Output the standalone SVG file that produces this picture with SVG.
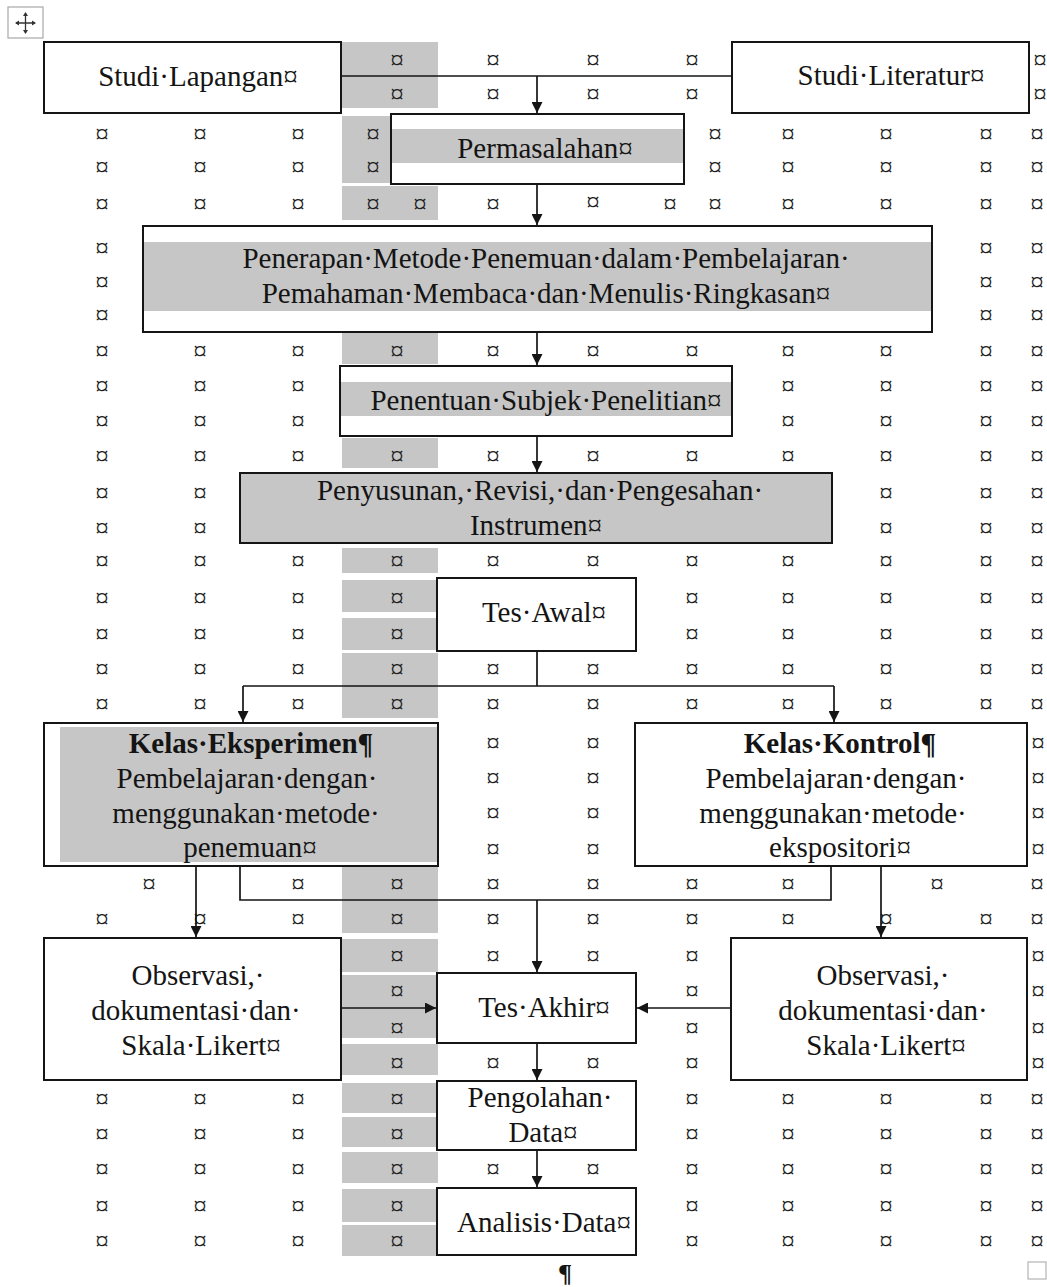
<svg xmlns="http://www.w3.org/2000/svg" width="1047" height="1287" viewBox="0 0 1047 1287">
<style>
.t{font-family:"Liberation Serif","Times New Roman",serif;font-size:29px;fill:#141414;text-anchor:middle}
.b{font-weight:bold}
.m{font-family:"Liberation Serif","Times New Roman",serif;font-size:27px;fill:#1e1e1e;text-anchor:middle}
.box{fill:none;stroke:#151515;stroke-width:2}
.g{fill:#c6c6c6}
.c{fill:none;stroke:#151515;stroke-width:1.7}
.a{fill:none;stroke:#151515;stroke-width:1.7;marker-end:url(#ah)}
</style>
<defs>
<marker id="ah" viewBox="0 0 10 10" refX="10" refY="5" markerWidth="13" markerHeight="11" orient="auto" markerUnits="userSpaceOnUse">
<path d="M0,0 L10,5 L0,10 z" fill="#151515"/>
</marker>
</defs>
<rect width="1047" height="1287" fill="#ffffff"/>

<g id="shading">
<rect class="g" x="342" y="42" width="96" height="66"/>
<rect class="g" x="342" y="116" width="48" height="67"/>
<rect class="g" x="342" y="186" width="96" height="34"/>
<rect class="g" x="342" y="333" width="96" height="31"/>
<rect class="g" x="342" y="438" width="96" height="30"/>
<rect class="g" x="342" y="548" width="96" height="25"/>
<rect class="g" x="342" y="580" width="96" height="32"/>
<rect class="g" x="342" y="618" width="96" height="32"/>
<rect class="g" x="342" y="653" width="96" height="65"/>
<rect class="g" x="342" y="867" width="96" height="66"/>
<rect class="g" x="342" y="939" width="96" height="33"/>
<rect class="g" x="342" y="975" width="96" height="63"/>
<rect class="g" x="342" y="1044" width="96" height="31"/>
<rect class="g" x="342" y="1083" width="96" height="30"/>
<rect class="g" x="342" y="1117" width="96" height="30"/>
<rect class="g" x="342" y="1152" width="96" height="31"/>
<rect class="g" x="342" y="1189" width="96" height="33"/>
<rect class="g" x="342" y="1225" width="96" height="31"/>
</g>

<g id="cell-markers">
<text class="m" x="397" y="69">¤</text><text class="m" x="493" y="69">¤</text><text class="m" x="593" y="69">¤</text><text class="m" x="692" y="69">¤</text><text class="m" x="1040" y="69">¤</text>
<text class="m" x="397" y="103">¤</text><text class="m" x="493" y="103">¤</text><text class="m" x="593" y="103">¤</text><text class="m" x="692" y="103">¤</text><text class="m" x="1040" y="103">¤</text>
<text class="m" x="102" y="143">¤</text><text class="m" x="200" y="143">¤</text><text class="m" x="298" y="143">¤</text><text class="m" x="373" y="143">¤</text><text class="m" x="715" y="143">¤</text><text class="m" x="788" y="143">¤</text><text class="m" x="886" y="143">¤</text><text class="m" x="986" y="143">¤</text><text class="m" x="1037" y="143">¤</text>
<text class="m" x="102" y="176">¤</text><text class="m" x="200" y="176">¤</text><text class="m" x="298" y="176">¤</text><text class="m" x="373" y="176">¤</text><text class="m" x="715" y="176">¤</text><text class="m" x="788" y="176">¤</text><text class="m" x="886" y="176">¤</text><text class="m" x="986" y="176">¤</text><text class="m" x="1037" y="176">¤</text>
<text class="m" x="102" y="213">¤</text><text class="m" x="200" y="213">¤</text><text class="m" x="298" y="213">¤</text><text class="m" x="373" y="213">¤</text><text class="m" x="420" y="213">¤</text><text class="m" x="493" y="213">¤</text><text class="m" x="593" y="211">¤</text><text class="m" x="670" y="213">¤</text><text class="m" x="715" y="213">¤</text><text class="m" x="788" y="213">¤</text><text class="m" x="886" y="213">¤</text><text class="m" x="986" y="213">¤</text><text class="m" x="1037" y="213">¤</text>
<text class="m" x="102" y="257">¤</text><text class="m" x="986" y="257">¤</text><text class="m" x="1037" y="257">¤</text>
<text class="m" x="102" y="291">¤</text><text class="m" x="986" y="291">¤</text><text class="m" x="1037" y="291">¤</text>
<text class="m" x="102" y="324">¤</text><text class="m" x="986" y="324">¤</text><text class="m" x="1037" y="324">¤</text>
<text class="m" x="102" y="360">¤</text><text class="m" x="200" y="360">¤</text><text class="m" x="298" y="360">¤</text><text class="m" x="397" y="360">¤</text><text class="m" x="493" y="360">¤</text><text class="m" x="593" y="360">¤</text><text class="m" x="692" y="360">¤</text><text class="m" x="788" y="360">¤</text><text class="m" x="886" y="360">¤</text><text class="m" x="986" y="360">¤</text><text class="m" x="1037" y="360">¤</text>
<text class="m" x="102" y="395">¤</text><text class="m" x="200" y="395">¤</text><text class="m" x="298" y="395">¤</text><text class="m" x="788" y="395">¤</text><text class="m" x="886" y="395">¤</text><text class="m" x="986" y="395">¤</text><text class="m" x="1037" y="395">¤</text>
<text class="m" x="102" y="430">¤</text><text class="m" x="200" y="430">¤</text><text class="m" x="298" y="430">¤</text><text class="m" x="788" y="430">¤</text><text class="m" x="886" y="430">¤</text><text class="m" x="986" y="430">¤</text><text class="m" x="1037" y="430">¤</text>
<text class="m" x="102" y="465">¤</text><text class="m" x="200" y="465">¤</text><text class="m" x="298" y="465">¤</text><text class="m" x="397" y="465">¤</text><text class="m" x="493" y="465">¤</text><text class="m" x="593" y="465">¤</text><text class="m" x="692" y="465">¤</text><text class="m" x="788" y="465">¤</text><text class="m" x="886" y="465">¤</text><text class="m" x="986" y="465">¤</text><text class="m" x="1037" y="465">¤</text>
<text class="m" x="102" y="502">¤</text><text class="m" x="200" y="502">¤</text><text class="m" x="886" y="502">¤</text><text class="m" x="986" y="502">¤</text><text class="m" x="1037" y="502">¤</text>
<text class="m" x="102" y="537">¤</text><text class="m" x="200" y="537">¤</text><text class="m" x="886" y="537">¤</text><text class="m" x="986" y="537">¤</text><text class="m" x="1037" y="537">¤</text>
<text class="m" x="102" y="570">¤</text><text class="m" x="200" y="570">¤</text><text class="m" x="298" y="570">¤</text><text class="m" x="397" y="570">¤</text><text class="m" x="493" y="570">¤</text><text class="m" x="593" y="570">¤</text><text class="m" x="692" y="570">¤</text><text class="m" x="788" y="570">¤</text><text class="m" x="886" y="570">¤</text><text class="m" x="986" y="570">¤</text><text class="m" x="1037" y="570">¤</text>
<text class="m" x="102" y="607">¤</text><text class="m" x="200" y="607">¤</text><text class="m" x="298" y="607">¤</text><text class="m" x="397" y="607">¤</text><text class="m" x="692" y="607">¤</text><text class="m" x="788" y="607">¤</text><text class="m" x="886" y="607">¤</text><text class="m" x="986" y="607">¤</text><text class="m" x="1037" y="607">¤</text>
<text class="m" x="102" y="643">¤</text><text class="m" x="200" y="643">¤</text><text class="m" x="298" y="643">¤</text><text class="m" x="397" y="643">¤</text><text class="m" x="692" y="643">¤</text><text class="m" x="788" y="643">¤</text><text class="m" x="886" y="643">¤</text><text class="m" x="986" y="643">¤</text><text class="m" x="1037" y="643">¤</text>
<text class="m" x="102" y="678">¤</text><text class="m" x="200" y="678">¤</text><text class="m" x="298" y="678">¤</text><text class="m" x="397" y="678">¤</text><text class="m" x="493" y="678">¤</text><text class="m" x="593" y="678">¤</text><text class="m" x="692" y="678">¤</text><text class="m" x="788" y="678">¤</text><text class="m" x="886" y="678">¤</text><text class="m" x="986" y="678">¤</text><text class="m" x="1037" y="678">¤</text>
<text class="m" x="102" y="713">¤</text><text class="m" x="200" y="713">¤</text><text class="m" x="298" y="713">¤</text><text class="m" x="397" y="713">¤</text><text class="m" x="493" y="713">¤</text><text class="m" x="593" y="713">¤</text><text class="m" x="692" y="713">¤</text><text class="m" x="788" y="713">¤</text><text class="m" x="886" y="713">¤</text><text class="m" x="986" y="713">¤</text><text class="m" x="1037" y="713">¤</text>
<text class="m" x="493" y="752">¤</text><text class="m" x="593" y="752">¤</text><text class="m" x="1038" y="752">¤</text>
<text class="m" x="493" y="787">¤</text><text class="m" x="593" y="787">¤</text><text class="m" x="1038" y="787">¤</text>
<text class="m" x="493" y="822">¤</text><text class="m" x="593" y="822">¤</text><text class="m" x="1038" y="822">¤</text>
<text class="m" x="493" y="858">¤</text><text class="m" x="593" y="858">¤</text><text class="m" x="1038" y="858">¤</text>
<text class="m" x="149" y="893">¤</text><text class="m" x="298" y="893">¤</text><text class="m" x="397" y="893">¤</text><text class="m" x="493" y="893">¤</text><text class="m" x="593" y="893">¤</text><text class="m" x="692" y="893">¤</text><text class="m" x="788" y="893">¤</text><text class="m" x="937" y="893">¤</text><text class="m" x="1037" y="893">¤</text>
<text class="m" x="102" y="928">¤</text><text class="m" x="200" y="928">¤</text><text class="m" x="298" y="928">¤</text><text class="m" x="397" y="928">¤</text><text class="m" x="493" y="928">¤</text><text class="m" x="593" y="928">¤</text><text class="m" x="692" y="928">¤</text><text class="m" x="788" y="928">¤</text><text class="m" x="886" y="928">¤</text><text class="m" x="986" y="928">¤</text><text class="m" x="1037" y="928">¤</text>
<text class="m" x="397" y="965">¤</text><text class="m" x="493" y="965">¤</text><text class="m" x="593" y="965">¤</text><text class="m" x="692" y="965">¤</text><text class="m" x="1038" y="965">¤</text>
<text class="m" x="397" y="1000">¤</text><text class="m" x="692" y="1000">¤</text><text class="m" x="1038" y="1000">¤</text>
<text class="m" x="397" y="1037">¤</text><text class="m" x="692" y="1037">¤</text><text class="m" x="1038" y="1037">¤</text>
<text class="m" x="397" y="1072">¤</text><text class="m" x="493" y="1072">¤</text><text class="m" x="593" y="1072">¤</text><text class="m" x="692" y="1072">¤</text><text class="m" x="1038" y="1072">¤</text>
<text class="m" x="102" y="1108">¤</text><text class="m" x="200" y="1108">¤</text><text class="m" x="298" y="1108">¤</text><text class="m" x="397" y="1108">¤</text><text class="m" x="692" y="1108">¤</text><text class="m" x="788" y="1108">¤</text><text class="m" x="886" y="1108">¤</text><text class="m" x="986" y="1108">¤</text><text class="m" x="1037" y="1108">¤</text>
<text class="m" x="102" y="1143">¤</text><text class="m" x="200" y="1143">¤</text><text class="m" x="298" y="1143">¤</text><text class="m" x="397" y="1143">¤</text><text class="m" x="692" y="1143">¤</text><text class="m" x="788" y="1143">¤</text><text class="m" x="886" y="1143">¤</text><text class="m" x="986" y="1143">¤</text><text class="m" x="1037" y="1143">¤</text>
<text class="m" x="102" y="1178">¤</text><text class="m" x="200" y="1178">¤</text><text class="m" x="298" y="1178">¤</text><text class="m" x="397" y="1178">¤</text><text class="m" x="493" y="1178">¤</text><text class="m" x="593" y="1178">¤</text><text class="m" x="692" y="1178">¤</text><text class="m" x="788" y="1178">¤</text><text class="m" x="886" y="1178">¤</text><text class="m" x="986" y="1178">¤</text><text class="m" x="1037" y="1178">¤</text>
<text class="m" x="102" y="1215">¤</text><text class="m" x="200" y="1215">¤</text><text class="m" x="298" y="1215">¤</text><text class="m" x="397" y="1215">¤</text><text class="m" x="692" y="1215">¤</text><text class="m" x="788" y="1215">¤</text><text class="m" x="886" y="1215">¤</text><text class="m" x="986" y="1215">¤</text><text class="m" x="1037" y="1215">¤</text>
<text class="m" x="102" y="1250">¤</text><text class="m" x="200" y="1250">¤</text><text class="m" x="298" y="1250">¤</text><text class="m" x="397" y="1250">¤</text><text class="m" x="692" y="1250">¤</text><text class="m" x="788" y="1250">¤</text><text class="m" x="886" y="1250">¤</text><text class="m" x="986" y="1250">¤</text><text class="m" x="1037" y="1250">¤</text>
</g>

<g id="table-handle">
<rect x="8" y="7" width="35" height="31" fill="#ffffff" stroke="#a8a8a8" stroke-width="1.2"/>
<path d="M16,23 H35 M25.5,13 V33" stroke="#333" stroke-width="1.3" fill="none"/>
<path d="M15,23 L19,20.5 L19,25.5 z M36,23 L32,20.5 L32,25.5 z M25.5,12 L23,16 L28,16 z M25.5,34 L23,30 L28,30 z" fill="#333"/>
</g>

<g id="connectors">
<path class="c" d="M341,76 H732"/>
<path class="a" d="M537,76 V113"/>
<path class="a" d="M537,184 V225"/>
<path class="a" d="M537,332 V365"/>
<path class="a" d="M537,437 V472"/>
<path class="c" d="M537,651 V686 M243,686 H834"/>
<path class="a" d="M243,686 V722"/>
<path class="a" d="M834,686 V722"/>
<path class="a" d="M196,866 V937"/>
<path class="a" d="M881,866 V937"/>
<path class="c" d="M240,866 V900 H831 V866"/>
<path class="a" d="M537,900 V972"/>
<path class="a" d="M341,1008 H436"/>
<path class="a" d="M731,1008 H637"/>
<path class="a" d="M537,1043 V1080"/>
<path class="a" d="M537,1150 V1187"/>
</g>

<g id="studi-lapangan">
<rect class="box" x="44" y="42" width="297" height="71"/>
<text class="t" x="198" y="86">Studi·Lapangan¤</text>
</g>
<g id="studi-literatur">
<rect class="box" x="732" y="42" width="297" height="71"/>
<text class="t" x="891" y="85">Studi·Literatur¤</text>
</g>
<g id="permasalahan">
<rect class="g" x="392" y="129" width="291" height="34"/>
<rect class="box" x="391" y="114" width="293" height="70"/>
<text class="t" x="545" y="158">Permasalahan¤</text>
</g>
<g id="penerapan">
<rect class="g" x="144" y="242" width="787" height="69"/>
<rect class="box" x="143" y="226" width="789" height="106"/>
<text class="t" x="546" y="268">Penerapan·Metode·Penemuan·dalam·Pembelajaran·</text>
<text class="t" x="546" y="303">Pemahaman·Membaca·dan·Menulis·Ringkasan¤</text>
</g>
<g id="penentuan">
<rect class="g" x="341" y="382" width="390" height="34"/>
<rect class="box" x="340" y="366" width="392" height="70"/>
<text class="t" x="546" y="410">Penentuan·Subjek·Penelitian¤</text>
</g>
<g id="penyusunan">
<rect x="240" y="473" width="592" height="70" fill="#c6c6c6" stroke="#151515" stroke-width="2"/>
<text class="t" x="540" y="500">Penyusunan,·Revisi,·dan·Pengesahan·</text>
<text class="t" x="536" y="535">Instrumen¤</text>
</g>
<g id="tes-awal">
<rect class="box" x="437" y="578" width="199" height="73"/>
<text class="t" x="544" y="622">Tes·Awal¤</text>
</g>
<g id="kelas-eksperimen">
<rect class="g" x="60" y="727" width="377" height="135"/>
<rect class="box" x="44" y="723" width="394" height="143"/>
<text class="t b" x="251" y="753">Kelas·Eksperimen¶</text>
<text class="t" x="247" y="788">Pembelajaran·dengan·</text>
<text class="t" x="246" y="823">menggunakan·metode·</text>
<text class="t" x="250" y="857">penemuan¤</text>
</g>
<g id="kelas-kontrol">
<rect class="box" x="635" y="723" width="392" height="143"/>
<text class="t b" x="840" y="753">Kelas·Kontrol¶</text>
<text class="t" x="836" y="788">Pembelajaran·dengan·</text>
<text class="t" x="833" y="823">menggunakan·metode·</text>
<text class="t" x="840" y="857">ekspositori¤</text>
</g>
<g id="observasi-kiri">
<rect class="box" x="44" y="938" width="297" height="142"/>
<text class="t" x="198" y="985">Observasi,·</text>
<text class="t" x="196" y="1020">dokumentasi·dan·</text>
<text class="t" x="201" y="1055">Skala·Likert¤</text>
</g>
<g id="tes-akhir">
<rect class="box" x="437" y="973" width="199" height="70"/>
<text class="t" x="544" y="1017">Tes·Akhir¤</text>
</g>
<g id="observasi-kanan">
<rect class="box" x="731" y="938" width="296" height="142"/>
<text class="t" x="883" y="985">Observasi,·</text>
<text class="t" x="883" y="1020">dokumentasi·dan·</text>
<text class="t" x="886" y="1055">Skala·Likert¤</text>
</g>
<g id="pengolahan-data">
<rect class="box" x="437" y="1081" width="199" height="69"/>
<text class="t" x="540" y="1107">Pengolahan·</text>
<text class="t" x="543" y="1142">Data¤</text>
</g>
<g id="analisis-data">
<rect class="box" x="437" y="1188" width="199" height="67"/>
<text class="t" x="544" y="1232">Analisis·Data¤</text>
</g>

<g id="end-marks">
<text class="t b" x="565" y="1282" style="font-size:26px">¶</text>
<rect x="1028" y="1262" width="18" height="17" fill="none" stroke="#b4b4b4" stroke-width="1.2"/>
</g>
</svg>
